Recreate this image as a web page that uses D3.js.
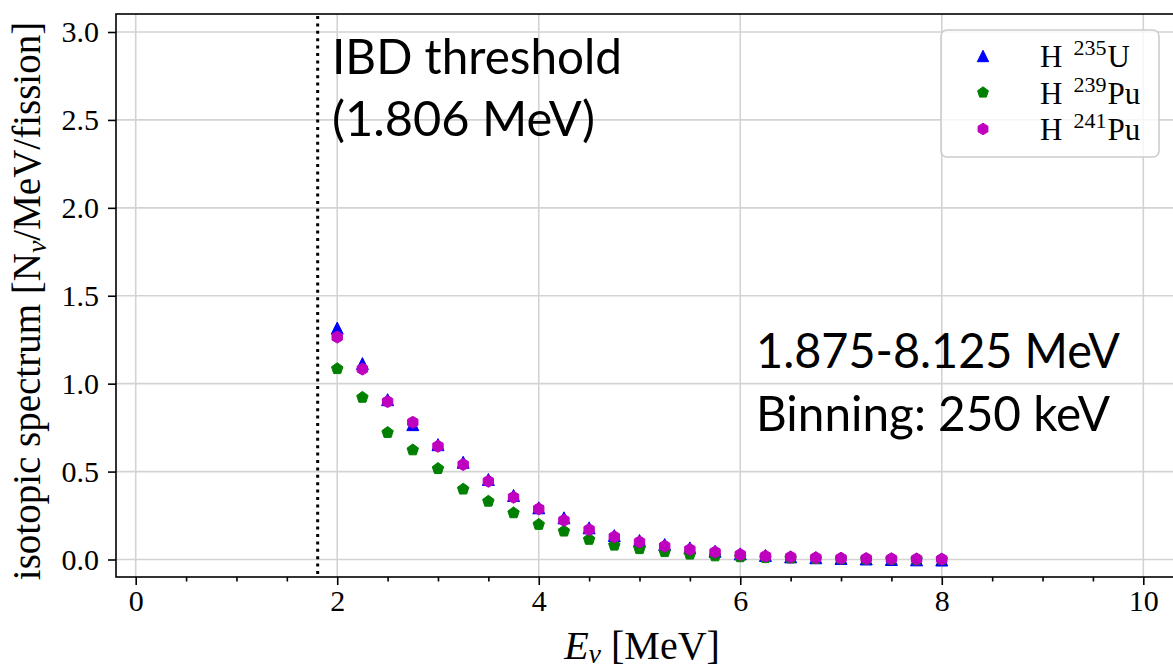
<!DOCTYPE html>
<html>
<head>
<meta charset="utf-8">
<script src="https://cdn.jsdelivr.net/npm/d3@7"></script>
<style>
	body { margin: 0; background: #fff; }
	svg { display: block; }
</style>
</head>
<body>
<svg></svg>
<script>
// bin centres (MeV) and isotopic spectra
const energies = [2.0, 2.25, 2.5, 2.75, 3.0, 3.25, 3.5, 3.75, 4.0, 4.25, 4.5, 4.75, 5.0,
	5.25, 5.5, 5.75, 6.0, 6.25, 6.5, 6.75, 7.0, 7.25, 7.5, 7.75, 8.0];
const u235 = [1.316, 1.114, 0.909, 0.767, 0.653, 0.553, 0.455, 0.364, 0.294, 0.237, 0.180, 0.136, 0.108,
	0.085, 0.066, 0.047, 0.032, 0.023, 0.015, 0.010, 0.006, 0.003, 0.000, -0.002, -0.003];
const pu239 = [1.085, 0.922, 0.722, 0.623, 0.517, 0.400, 0.331, 0.265, 0.199, 0.161, 0.114, 0.081, 0.061,
	0.044, 0.030, 0.020, 0.015, 0.010, 0.008, 0.005, 0.003, 0.002, 0.001, 0.000, 0.000];
const pu241 = [1.265, 1.083, 0.898, 0.780, 0.644, 0.540, 0.445, 0.354, 0.288, 0.223, 0.170, 0.129, 0.100,
	0.076, 0.057, 0.042, 0.028, 0.019, 0.014, 0.010, 0.007, 0.005, 0.004, 0.003, 0.002];

const xTicks = [0, 2, 4, 6, 8, 10];
const xMinorTicks = [0.5, 1, 1.5, 2.5, 3, 3.5, 4.5, 5, 5.5, 6.5, 7, 7.5, 8.5, 9, 9.5];
const yTicks = [0, 0.5, 1.0, 1.5, 2.0, 2.5, 3.0];
const ibdThreshold = 1.806;

const serif = "'Liberation Serif', 'DejaVu Serif', serif";
const sans = "Lato, 'Open Sans', sans-serif";

const svg = d3.select("svg");
svg.attr("width", 1173).attr("height", 671);

const frame = { left: 116, top: 14, right: 1175, bottom: 577 };

const xScale = d3.scaleLinear().domain([0, 10]).range([135.7, 1143.3]);
const yScale = d3.scaleLinear().domain([0, 3]).range([559.5, 32]);

// custom matplotlib-like marker shapes
function polygonSymbol(n, rot) {
	return {
		draw(context, size) {
			const r = Math.sqrt(size) / 2;
			for (let i = 0; i < n; i++) {
				const a = rot + (2 * Math.PI * i) / n;
				const x = r * Math.sin(a);
				const y = -r * Math.cos(a);
				if (i === 0) context.moveTo(x, y);
				else context.lineTo(x, y);
			}
			context.closePath();
		}
	};
}
const triangleUp = {
	draw(context, size) {
		const h = Math.sqrt(size) / 2;
		context.moveTo(0, -h);
		context.lineTo(-h, h);
		context.lineTo(h, h);
		context.closePath();
	}
};

const series = [
	{ name: "235", el: "U", values: u235, color: "#0000ff", type: triangleUp },
	{ name: "239", el: "Pu", values: pu239, color: "#008000", type: polygonSymbol(5, 0) },
	{ name: "241", el: "Pu", values: pu241, color: "#bf00bf", type: polygonSymbol(6, 0) }
];

// grid
const grid = svg.append("g").attr("class", "grid")
	.attr("stroke", "#d3d3d3").attr("stroke-width", 1.6);
grid.selectAll("line.gx").data(xTicks).enter().append("line")
	.attr("x1", (d) => xScale(d)).attr("x2", (d) => xScale(d))
	.attr("y1", frame.top).attr("y2", frame.bottom);
grid.selectAll("line.gy").data(yTicks).enter().append("line")
	.attr("x1", frame.left).attr("x2", frame.right)
	.attr("y1", (d) => yScale(d)).attr("y2", (d) => yScale(d));

// IBD threshold line
svg.append("line")
	.attr("x1", xScale(ibdThreshold)).attr("x2", xScale(ibdThreshold))
	.attr("y1", frame.top + 2).attr("y2", frame.bottom)
	.attr("stroke", "#000").attr("stroke-width", 3)
	.attr("stroke-dasharray", "3,4.4");

// points
series.forEach((s) => {
	svg.append("g").selectAll("path").data(s.values).enter().append("path")
		.attr("transform", (d, i) => `translate(${xScale(energies[i])},${yScale(d)})`)
		.attr("d", d3.symbol().type(s.type).size(144))
		.attr("fill", s.color)
		.attr("stroke", s.color)
		.attr("stroke-width", 1);
});

// axes
const xAxis = d3.axisBottom(xScale).tickValues(xTicks).tickSize(8).tickPadding(5)
	.tickFormat(d3.format("d"));
const xMinor = d3.axisBottom(xScale).tickValues(xMinorTicks).tickSize(4.5).tickFormat("");
const yAxis = d3.axisLeft(yScale).tickValues(yTicks).tickSize(8).tickPadding(9)
	.tickFormat(d3.format(".1f"));

function styleAxis(g) {
	g.select(".domain").remove();
	g.selectAll(".tick line").attr("stroke", "#000").attr("stroke-width", 1.6);
	g.selectAll(".tick text").attr("fill", "#000")
		.style("font-family", serif).style("font-size", "30px");
}
svg.append("g").attr("transform", `translate(0,${frame.bottom})`).call(xAxis).call(styleAxis);
svg.append("g").attr("transform", `translate(0,${frame.bottom})`).call(xMinor).call(styleAxis);
svg.append("g").attr("transform", `translate(${frame.left},0)`).call(yAxis).call(styleAxis);

// spines (right spine falls just outside the picture)
svg.append("rect")
	.attr("x", frame.left).attr("y", frame.top)
	.attr("width", frame.right - frame.left).attr("height", frame.bottom - frame.top)
	.attr("fill", "none").attr("stroke", "#000").attr("stroke-width", 1.6);

// axis labels
const xLabel = svg.append("text")
	.attr("x", 642).attr("y", 659)
	.attr("text-anchor", "middle")
	.style("font-family", serif).style("font-size", "40px");
xLabel.append("tspan").style("font-style", "italic").text("E");
xLabel.append("tspan").style("font-style", "italic").style("font-size", "28px")
	.attr("dy", 4).text("ν");
xLabel.append("tspan").attr("dy", -4).text(" [MeV]");

const yLabel = svg.append("text")
	.attr("transform", "translate(40,301) rotate(-90)")
	.attr("text-anchor", "middle")
	.style("font-family", serif).style("font-size", "39px");
yLabel.append("tspan").text("isotopic spectrum [N");
yLabel.append("tspan").style("font-style", "italic").style("font-size", "28px")
	.attr("dy", 6).text("ν");
yLabel.append("tspan").attr("dy", -6).text("/MeV/fission]");

// annotations
const notes = [
	{ text: "IBD threshold", x: 332, y: 74, w: 290 },
	{ text: "(1.806 MeV)", x: 332, y: 136, w: 263 },
	{ text: "1.875-8.125 MeV", x: 756, y: 368, w: 364 },
	{ text: "Binning: 250 keV", x: 756, y: 431, w: 354 }
];
svg.append("g").selectAll("text").data(notes).enter().append("text")
	.attr("x", (d) => d.x).attr("y", (d) => d.y)
	.attr("textLength", (d) => d.w).attr("lengthAdjust", "spacingAndGlyphs")
	.style("font-family", sans).style("font-size", "49px").attr("fill", "#000")
	.text((d) => d.text);

// legend
const legend = svg.append("g").attr("class", "legend");
legend.append("rect")
	.attr("x", 941).attr("y", 30).attr("width", 218).attr("height", 127)
	.attr("rx", 6).attr("ry", 6)
	.attr("fill", "#fff").attr("fill-opacity", 0.8)
	.attr("stroke", "#cccccc").attr("stroke-width", 1.6);
const rows = legend.selectAll("g.row").data(series).enter().append("g")
	.attr("transform", (d, i) => `translate(0,${56 + i * 36.5})`);
rows.append("path")
	.attr("transform", "translate(983,0)")
	.attr("d", (d) => d3.symbol().type(d.type).size(130)())
	.attr("fill", (d) => d.color).attr("stroke", (d) => d.color);
const label = rows.append("text")
	.attr("x", 1040).attr("y", 11)
	.style("font-family", serif).style("font-size", "31px").attr("fill", "#000");
label.append("tspan").text("H");
label.append("tspan").style("font-size", "22px").attr("dx", 11).attr("dy", -12).text((d) => d.name);
label.append("tspan").attr("dx", 1).attr("dy", 12).text((d) => d.el);
</script>
</body>
</html>
